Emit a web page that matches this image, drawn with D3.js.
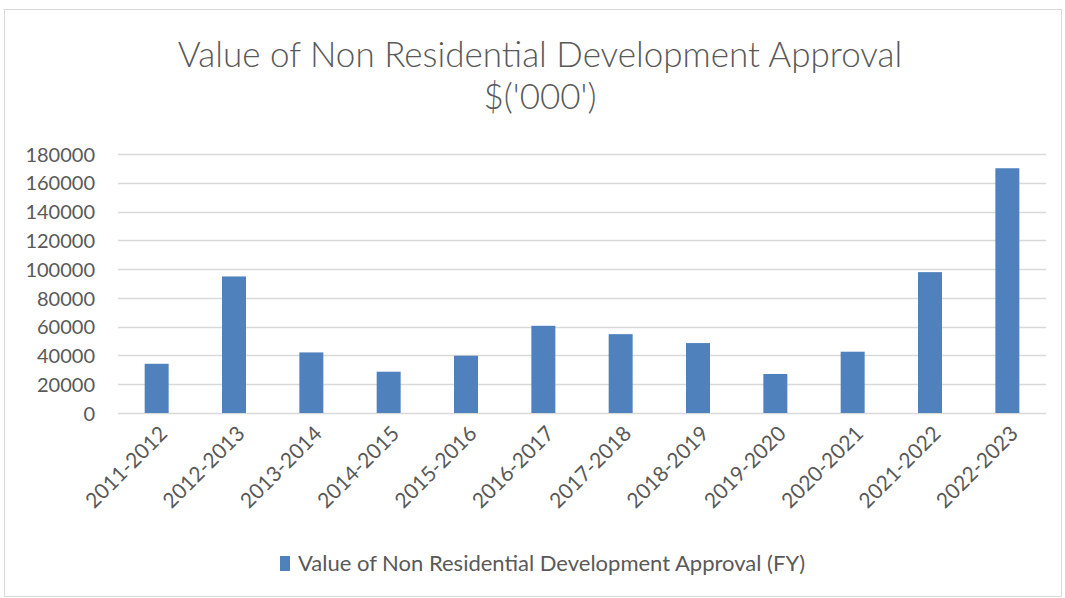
<!DOCTYPE html>
<html>
<head>
<meta charset="utf-8">
<script src="https://cdn.jsdelivr.net/npm/d3@7"></script>
<style>
  body { margin: 0; background: #fff; }
  text { font-family: Lato, "Open Sans", sans-serif; fill: #595959; }
</style>
</head>
<body>
<svg id="chart" width="1065" height="598"></svg>
<script>
let years = ['2011-2012','2012-2013','2013-2014','2014-2015','2015-2016','2016-2017',
             '2017-2018','2018-2019','2019-2020','2020-2021','2021-2022','2022-2023']
let values = [34200, 94900, 42100, 28700, 39800, 60600, 54800, 48600, 27100, 42600, 97900, 170100]
let yTicks = [0, 20000, 40000, 60000, 80000, 100000, 120000, 140000, 160000, 180000]
let titleLines = ['Value of Non Residential Development Approval', "$('000')"]
let seriesName = 'Value of Non Residential Development Approval (FY)'

let margin = {top: 154, right: 19, bottom: 185, left: 118}
let width = 1065, height = 598
let plotW = width - margin.left - margin.right
let plotH = height - margin.top - margin.bottom

let svg = d3.select('#chart')

// chart border
svg.append('rect')
    .attr('x', 4.5).attr('y', 9.5)
    .attr('width', 1057).attr('height', 587)
    .attr('fill', '#fff')
    .attr('stroke', '#d9d9d9')

svg.append('g')
    .selectAll('text')
    .data(titleLines)
    .enter().append('text')
    .attr('x', 540)
    .attr('y', (d, i) => 67 + i*42)
    .attr('text-anchor', 'middle')
    .style('font-size', '35px')
    .style('font-weight', 300)
    .text(d => d)

let g = svg.append('g').attr('transform', 'translate('+margin.left+','+margin.top+')')

let x = d3.scaleBand()
    .domain(years)
    .range([0, plotW])
    .paddingInner(0.69)
    .paddingOuter(0.345)

let y = d3.scaleLinear()
    .domain([0, 180000])
    .range([plotH, 0])

// gridlines
g.append('g')
    .selectAll('line')
    .data(yTicks)
    .enter().append('line')
    .attr('x1', 0).attr('x2', plotW)
    .attr('y1', d => Math.round(y(d)) + 0.5)
    .attr('y2', d => Math.round(y(d)) + 0.5)
    .attr('stroke', '#d9d9d9')
    .attr('stroke-width', 1.3)

let yAxis = g.append('g')
    .call(d3.axisLeft(y).tickValues(yTicks).tickSize(0).tickPadding(23).tickFormat(d3.format('d')))
yAxis.select('.domain').remove()
yAxis.selectAll('text').style('font-size', '20px').attr('dy', '0.36em')

g.append('g')
    .selectAll('rect')
    .data(values)
    .enter().append('rect')
    .attr('x', (d, i) => x(years[i]))
    .attr('y', d => y(d))
    .attr('width', x.bandwidth())
    .attr('height', d => plotH - y(d))
    .attr('fill', '#4f81bd')

let xAxis = g.append('g')
    .attr('transform', 'translate(0,'+plotH+')')
    .call(d3.axisBottom(x).tickSize(0).tickPadding(0))
xAxis.select('.domain').remove()
xAxis.selectAll('text')
    .style('font-size', '21px')
    .attr('text-anchor', 'end')
    .attr('dy', '0')
    .attr('transform', 'translate(12,22) rotate(-45)')

// legend
let legend = svg.append('g').attr('transform', 'translate(280,556)')
legend.append('rect')
    .attr('width', 10).attr('height', 15)
    .attr('fill', '#4f81bd')
legend.append('text')
    .attr('x', 18).attr('y', 15)
    .style('font-size', '22px')
    .text(seriesName)
</script>
</body>
</html>
